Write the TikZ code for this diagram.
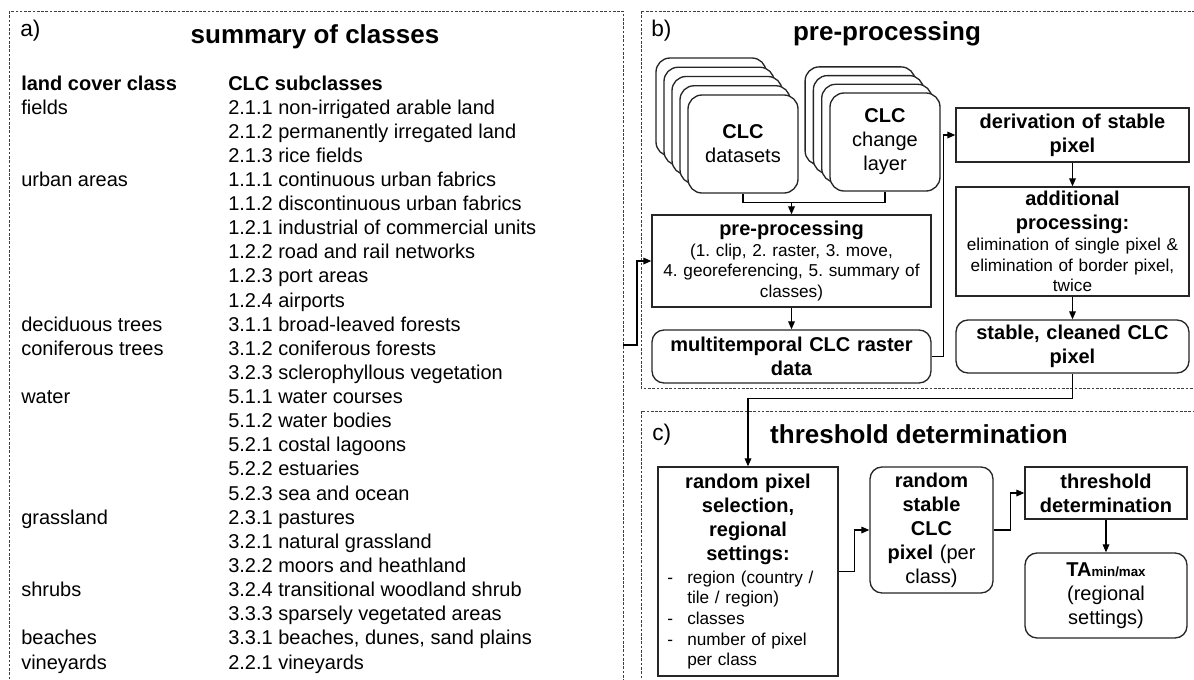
\documentclass[tikz,border=0pt]{standalone}
\usepackage{fontspec}
\setmainfont{Liberation Sans}
\usetikzlibrary{arrows.meta}
\frenchspacing
\newcommand\fbig{\fontsize{15pt}{18pt}\selectfont}
\newcommand\fsmall{\fontsize{12.9pt}{15.5pt}\selectfont}
\newcommand\ftitle{\fontsize{19.5pt}{23pt}\selectfont\bfseries}
\newcommand\flab{\fontsize{17pt}{20pt}\selectfont}
\begin{document}
\frenchspacing
\begin{tikzpicture}[x=0.75pt,y=-0.75pt,
  panel/.style={draw=black!75, dash pattern=on 2pt off 1.2pt, line width=0.7pt},
  boxsq/.style={draw=black!85, line width=1pt, fill=white, inner sep=0pt, align=center},
  boxrd/.style={boxsq, rounded corners=9pt},
  card/.style={boxsq, rounded corners=10.5pt, minimum width=82.5pt, minimum height=73.5pt, text width=78pt, font=\fbig},
  line/.style={draw=black, line width=0.9pt},
  arr/.style={line, -{Triangle[length=6pt,width=5pt]}},
  txt/.style={inner sep=0pt, font=\fbig},
  ttl/.style={inner sep=0pt, font=\ftitle},
  lab/.style={inner sep=0pt, font=\flab}
]
\useasboundingbox (0,0) rectangle (1194,679);
\clip (0,0) rectangle (1194,679);

% panels
\draw[panel] (9,11) rectangle (623,720);
\draw[panel] (641,11) rectangle (1230,388);
\draw[panel] (641,411) rectangle (1230,720);

% ---------- panel a ----------
\node[lab, anchor=base west] (alab) at (20,36) {a)};
\node[ttl, anchor=base] (atitle) at (315,43) {summary of classes};
\node[txt, anchor=base west, font=\fbig\bfseries] (hcl) at (21,90) {land cover class};
\node[txt, anchor=base west, font=\fbig\bfseries] (hsub) at (228,90) {CLC subclasses};
\foreach \i/\c in {0/fields,3/urban areas,9/deciduous trees,10/coniferous trees,12/water,17/grassland,20/shrubs,22/beaches,23/vineyards}
  \node[txt, anchor=base west] (c\i) at (21,{114+24.13*\i}) {\c};
\foreach \i/\s in {0/{2.1.1 non-irrigated arable land},
  1/{2.1.2 permanently irregated land},
  2/{2.1.3 rice fields},
  3/{1.1.1 continuous urban fabrics},
  4/{1.1.2 discontinuous urban fabrics},
  5/{1.2.1 industrial of commercial units},
  6/{1.2.2 road and rail networks},
  7/{1.2.3 port areas},
  8/{1.2.4 airports},
  9/{3.1.1 broad-leaved forests},
  10/{3.1.2 coniferous forests},
  11/{3.2.3 sclerophyllous vegetation},
  12/{5.1.1 water courses},
  13/{5.1.2 water bodies},
  14/{5.2.1 costal lagoons},
  15/{5.2.2 estuaries},
  16/{5.2.3 sea and ocean},
  17/{2.3.1 pastures},
  18/{3.2.1 natural grassland},
  19/{3.2.2 moors and heathland},
  20/{3.2.4 transitional woodland shrub},
  21/{3.3.3 sparsely vegetated areas},
  22/{3.3.1 beaches, dunes, sand plains},
  23/{2.2.1 vineyards}}
  \node[txt, anchor=base west] (s\i) at (228,{114+24.13*\i}) {\s};

% ---------- panel b ----------
\node[lab, anchor=base west] (blab) at (651,36) {b)};
\node[ttl, anchor=base] (btitle) at (887,40) {pre-processing};

\foreach \k in {4,3,2,1}
  \node[card] (dsb\k) at ({743-8*\k},{144-9.25*\k}) {};
\node[card] (ds) at (743,144) {\textbf{CLC}\\datasets};
\foreach \k in {3,2,1}
  \node[card] (clb\k) at ({885-8.3*\k},{142-8.7*\k}) {};
\node[card] (cl) at (885,142) {\textbf{CLC}\\change\\layer};

\node[boxsq, minimum width=209.25pt, minimum height=69pt, text width=203pt, font=\fsmall] (pre) at (791.5,261)
  {{\fbig\bfseries pre-processing\\}(1. clip, 2. raster, 3. move,\\4. georeferencing, 5. summary of\\classes)};
\node[boxrd, minimum width=209.25pt, minimum height=39.75pt, text width=203pt, font=\fbig\bfseries] (multi) at (791.5,356.5)
  {multitemporal CLC raster\\data};
\node[boxsq, minimum width=174.75pt, minimum height=40.5pt, text width=170pt, font=\fbig\bfseries] (der) at (1072.5,135)
  {derivation of stable\\pixel};
\node[boxsq, minimum width=174.75pt, minimum height=81.75pt, text width=172pt, font=\fsmall] (add) at (1072.5,241.5)
  {{\fbig\bfseries additional\\processing:\\}elimination of single pixel \&\\elimination of border pixel,\\twice};
\node[boxrd, minimum width=174.75pt, minimum height=39.75pt, text width=170pt, font=\fbig\bfseries] (st) at (1072.5,346.5)
  {stable, cleaned CLC\\pixel};

\draw[line] (ds.south) -- ++(0,9) coordinate (j1) -| (cl.south);
\draw[arr] (pre.north |- j1) -- (pre.north);
\draw[arr] (pre.south) -- (multi.north);
\draw[arr] (multi.east) -- ++(12,0) |- (der.west);
\draw[arr] (der.south) -- (add.north);
\draw[arr] (add.south) -- (st.north);
\coordinate (aout) at (623,345);
\draw[arr] (aout) -- ++(14,0) |- (pre.west);

% ---------- panel c ----------
\node[lab, anchor=base west] (clab) at (652,440) {c)};
\node[ttl, anchor=base] (ctitle) at (919,443) {threshold determination};

\node[boxsq, minimum width=135pt, minimum height=156.75pt] (rnd) at (748,571.5) {};
\node[txt, align=center, text width=130pt, font=\fbig\bfseries] (rndt) at (748,519)
  {random pixel\\selection,\\regional\\settings:};
\node[txt, anchor=west, align=left, text width=128pt, font=\fsmall] (rndl) at (667,620)
  {\makebox[15pt][l]{-}region (country /\\\hspace*{15pt}tile / region)\\\makebox[15pt][l]{-}classes\\\makebox[15pt][l]{-}number of pixel\\\hspace*{15pt}per class};
\node[boxrd, minimum width=92.25pt, minimum height=94.5pt, text width=88pt, font=\fbig] (rs) at (931.5,530)
  {\textbf{random}\\\textbf{stable}\\\textbf{CLC}\\\textbf{pixel} (per\\class)};
\node[boxsq, minimum width=121.5pt, minimum height=39pt, text width=118pt, font=\fbig\bfseries] (th) at (1106,493)
  {threshold\\determination};
\node[boxrd, minimum width=121.5pt, minimum height=63.75pt, text width=118pt, font=\fbig] (ta) at (1106,595.5)
  {\textbf{TA}\raisebox{-0.5pt}{\fontsize{10pt}{12pt}\selectfont\bfseries min/max}\\(regional\\settings)};

\draw[arr] (st.south) -- ++(0,25) -| (rnd.north);
\draw[arr] (rnd.east) -- ++(16,0) |- (rs.west);
\draw[arr] (rs.east) -- ++(17,0) |- (th.west);
\draw[arr] (th.south) -- (ta.north);
\end{tikzpicture}
\end{document}
